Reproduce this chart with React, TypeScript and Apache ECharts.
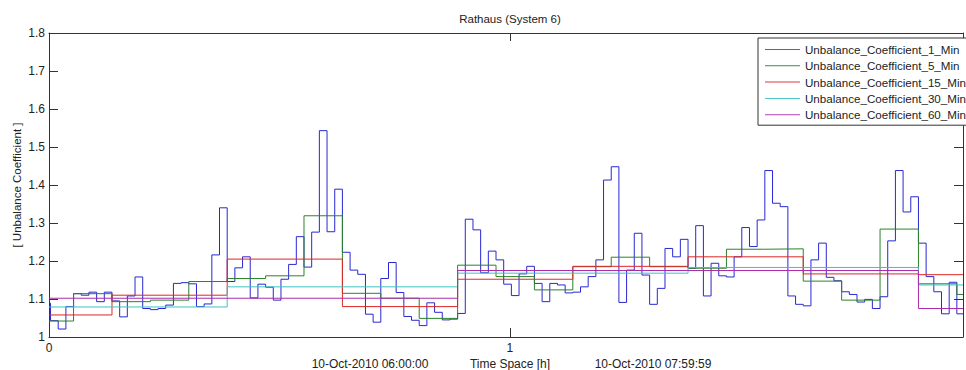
import React, { useEffect, useRef } from "react";
import * as echarts from "echarts";

// ---- texts ----
const TITLE = "Rathaus (System 6)";
const Y_NAME = "[ Unbalance Coefficient ]";
const X_NAME = "Time Space [h]";
const START_LABEL = "10-Oct-2010 06:00:00";
const END_LABEL = "10-Oct-2010 07:59:59";
const SERIES_NAMES = [
  "Unbalance_Coefficient_1_Min",
  "Unbalance_Coefficient_5_Min",
  "Unbalance_Coefficient_15_Min",
  "Unbalance_Coefficient_30_Min",
  "Unbalance_Coefficient_60_Min",
];

// ---- time frame (minutes) ----
const HOUR_MARK_MIN = 53.2; // minute at which a full hour boundary falls
const SPAN_MIN = 119; // visible span in minutes
const PERIODS = [1, 5, 15, 30, 60];

// ---- series values ----
const ONE_MIN = [
  1.089, 1.043, 1.021, 1.08, 1.114, 1.11, 1.118, 1.093, 1.118, 1.095,
  1.053, 1.108, 1.158, 1.075, 1.072, 1.075, 1.084, 1.141, 1.143, 1.14,
  1.08, 1.087, 1.216, 1.34, 1.146, 1.182, 1.211, 1.103, 1.139, 1.131,
  1.097, 1.152, 1.191, 1.264, 1.184, 1.276, 1.543, 1.277, 1.389, 1.223,
  1.176, 1.165, 1.06, 1.039, 1.154, 1.196, 1.117, 1.054, 1.044, 1.03,
  1.09, 1.065, 1.045, 1.047, 1.062, 1.31, 1.282, 1.169, 1.226, 1.203,
  1.139, 1.109, 1.166, 1.186, 1.141, 1.093, 1.141, 1.137, 1.116, 1.118,
  1.132, 1.159, 1.203, 1.413, 1.448, 1.091, 1.176, 1.273, 1.163, 1.086,
  1.128, 1.233, 1.211, 1.257, 1.181, 1.293, 1.108, 1.194, 1.161, 1.158,
  1.211, 1.288, 1.238, 1.308, 1.438, 1.352, 1.343, 1.108, 1.086, 1.082,
  1.203, 1.247, 1.157, 1.148, 1.119, 1.112, 1.092, 1.099, 1.075, 1.106,
  1.253, 1.438, 1.329, 1.369, 1.247, 1.159, 1.119, 1.061, 1.144, 1.061,
];
const FIVE_MIN = [
  1.042, 1.114, 1.093, 1.097, 1.146, 1.154, 1.161, 1.319, 1.115, 1.102,
  1.049, 1.189, 1.159, 1.124, 1.185, 1.21, 1.185, 1.181, 1.231, 1.232,
  1.147, 1.097, 1.284, 1.14, 1.112,
];
const FIFTEEN_MIN = [1.058, 1.11, 1.205, 1.08, 1.152, 1.186, 1.211, 1.166, 1.164];
const THIRTY_MIN = [1.079, 1.132, 1.168, 1.183, 1.137];
const SIXTY_MIN = [1.102, 1.175, 1.075];

const COLORS = ["#2828d2", "#2a832a", "#e02626", "#3cc3c3", "#ad2bad"];
const LEGEND_COLORS = ["#5a5ad8", "#3f8f3f", "#e03a3a", "#4cc6c6", "#b23fb2"];
const FONT = "'Liberation Sans', Arial, Helvetica, sans-serif";
const TEXT_COLOR = "#222";
const AXIS_COLOR = "#333";

function buildSteps(values: number[], period: number): [number, number][] {
  const first = HOUR_MARK_MIN % period;
  const pts: [number, number][] = values.map((v, i) => {
    const start = i === 0 ? 0 : first + (i - 1) * period;
    return [start / 60, v];
  });
  pts.push([SPAN_MIN / 60, values[values.length - 1]]);
  return pts;
}

export default function App() {
  const ref = useRef<HTMLDivElement>(null);

  useEffect(() => {
    document.body.style.margin = "0";
    if (!ref.current) return;
    const chart = echarts.init(ref.current, undefined, { renderer: "svg" });
    const allValues = [ONE_MIN, FIVE_MIN, FIFTEEN_MIN, THIRTY_MIN, SIXTY_MIN];
    const xMax = SPAN_MIN / 60;

    const intLabel = (v: number) =>
      Math.abs(v - Math.round(v)) < 1e-9 ? String(Math.round(v)) : "";

    chart.setOption({
      animation: false,
      backgroundColor: "#fff",
      grid: { left: 49, right: 1, top: 33, bottom: 33, containLabel: false },
      legend: {
        orient: "vertical",
        left: 758,
        top: 38,
        data: SERIES_NAMES.map((name, i) => ({
          name,
          icon: "rect",
          itemStyle: { color: LEGEND_COLORS[i], borderWidth: 0 },
        })),
        selectedMode: false,
        backgroundColor: "#fff",
        borderColor: AXIS_COLOR,
        borderWidth: 1,
        borderRadius: 0,
        padding: [4.5, 14, 3.5, 7],
        itemWidth: 35,
        itemHeight: 1,
        itemGap: 2.3,
        textStyle: {
          fontFamily: FONT,
          fontSize: 11.6,
          color: TEXT_COLOR,
          lineHeight: 14,
        },
      },
      xAxis: [
        {
          type: "value",
          position: "bottom",
          min: 0,
          max: xMax,
          interval: 1,
          axisLine: { show: true, onZero: false, lineStyle: { color: AXIS_COLOR, width: 1 } },
          axisTick: { show: true, inside: true, length: 9, lineStyle: { color: AXIS_COLOR } },
          axisLabel: {
            margin: 5,
            fontFamily: FONT,
            fontSize: 12,
            color: TEXT_COLOR,
            formatter: intLabel,
          },
          splitLine: { show: false },
        },
        {
          type: "value",
          position: "top",
          min: 0,
          max: xMax,
          interval: 1,
          axisLine: { show: true, onZero: false, lineStyle: { color: AXIS_COLOR, width: 1 } },
          axisTick: { show: true, inside: true, length: 8, lineStyle: { color: AXIS_COLOR } },
          axisLabel: { show: false },
          splitLine: { show: false },
        },
      ],
      yAxis: [
        {
          type: "value",
          position: "left",
          min: 1,
          max: 1.8,
          interval: 0.1,
          axisLine: { show: true, onZero: false, lineStyle: { color: AXIS_COLOR, width: 1 } },
          axisTick: { show: true, inside: true, length: 9, lineStyle: { color: AXIS_COLOR } },
          axisLabel: {
            margin: 4,
            fontFamily: FONT,
            fontSize: 12,
            color: TEXT_COLOR,
            formatter: (v: number) => String(Math.round(v * 10) / 10),
          },
          splitLine: { show: false },
        },
        {
          type: "value",
          position: "right",
          min: 1,
          max: 1.8,
          interval: 0.1,
          axisLine: { show: true, onZero: false, lineStyle: { color: AXIS_COLOR, width: 1 } },
          axisTick: { show: true, inside: true, length: 9, lineStyle: { color: AXIS_COLOR } },
          axisLabel: { show: false },
          splitLine: { show: false },
        },
      ],
      series: allValues.map((vals, i) => ({
        name: SERIES_NAMES[i],
        type: "line",
        xAxisIndex: 0,
        yAxisIndex: 0,
        step: "end",
        symbol: "none",
        showSymbol: false,
        data: buildSteps(vals, PERIODS[i]),
        lineStyle: { color: COLORS[i], width: 1 },
        itemStyle: { color: COLORS[i] },
        z: 2 + i,
      })),
      graphic: [
        {
          type: "text",
          x: 510,
          y: 19,
          style: {
            text: TITLE,
            align: "center",
            verticalAlign: "middle",
            font: `11.5px ${FONT}`,
            fill: TEXT_COLOR,
          },
        },
        {
          type: "text",
          x: 17,
          y: 185,
          rotation: Math.PI / 2,
          style: {
            text: Y_NAME,
            align: "center",
            verticalAlign: "middle",
            font: `11.5px ${FONT}`,
            fill: TEXT_COLOR,
          },
        },
        {
          type: "text",
          x: 370,
          y: 364,
          style: {
            text: START_LABEL,
            align: "center",
            verticalAlign: "middle",
            font: `12px ${FONT}`,
            fill: TEXT_COLOR,
          },
        },
        {
          type: "text",
          x: 510,
          y: 364,
          style: {
            text: X_NAME,
            align: "center",
            verticalAlign: "middle",
            font: `12px ${FONT}`,
            fill: TEXT_COLOR,
          },
        },
        {
          type: "text",
          x: 653,
          y: 364,
          style: {
            text: END_LABEL,
            align: "center",
            verticalAlign: "middle",
            font: `12px ${FONT}`,
            fill: TEXT_COLOR,
          },
        },
      ],
    });

    return () => chart.dispose();
  }, []);

  return <div ref={ref} style={{ width: 966, height: 370 }} />;
}
